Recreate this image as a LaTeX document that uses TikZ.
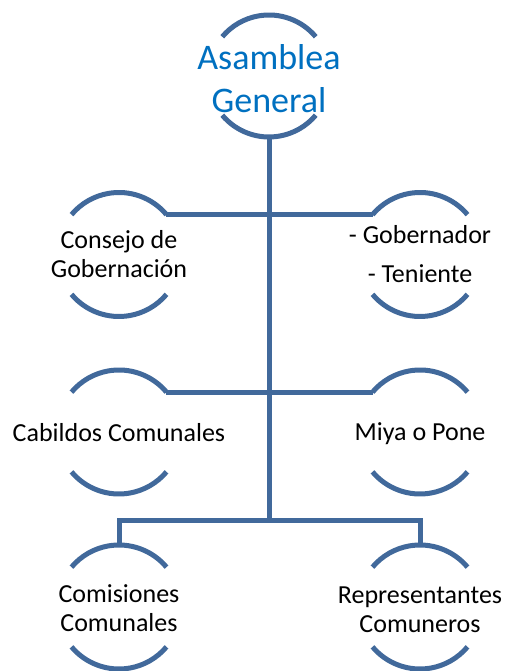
\documentclass[tikz,border=0pt]{standalone}
\usepackage{fontspec}
\setmainfont{Carlito}
\definecolor{lineblue}{RGB}{65,105,155}
\definecolor{textblue}{RGB}{0,112,192}
\begin{document}
\begin{tikzpicture}[x=1pt,y=1pt,
  ln/.style={draw=lineblue,line width=5pt},
  lbl/.style={inner sep=0pt,align=center,font=\fontsize{26}{29}\selectfont},
  toplbl/.style={inner sep=0pt,align=center,text=textblue,font=\fontsize{36}{43}\selectfont}]
\useasboundingbox (0,0) rectangle (505,671);
% nodes (circle centres)
\node[toplbl] (top) at (269,595) {};
\node[lbl] (cons) at (119,416.5) {};
\node[lbl] (gob) at (420,416.5) {};
\node[lbl] (cab) at (119,239) {};
\node[lbl] (miya) at (420,239) {};
\node[lbl] (com) at (119,64) {};
\node[lbl] (rep) at (420,64) {};
% labels
\node[toplbl] (topt) at ([yshift=-3pt]top.center) {Asamblea\\General};
\node[lbl] (const) at (cons.center) {Consejo de\\Gobernación};
\node[lbl] (gobt) at (gob.center) {- Gobernador\\[10pt]- Teniente};
\node[lbl] (cabt) at ([yshift=-1pt]cab.center) {Cabildos Comunales};
\node[lbl] (miyat) at ([yshift=-2pt]miya.center) {Miya o Pone};
\node[lbl] (comt) at ([yshift=-1pt]com.center) {Comisiones\\Comunales};
\node[lbl] (rept) at ([yshift=-3pt]rep.center) {Representantes\\Comuneros};
\coordinate (j) at (269,150);
% arcs
\draw[ln] ([shift={(40:61)}]top.center) arc[start angle=40,end angle=140,radius=61];
\draw[ln] ([shift={(220:61)}]top.center) arc[start angle=220,end angle=320,radius=61];
\foreach \n in {cons,gob,cab,miya,com,rep}{
  \draw[ln] ([shift={(40:62)}]\n.center) arc[start angle=40,end angle=140,radius=62];
  \draw[ln] ([shift={(220:62)}]\n.center) arc[start angle=220,end angle=320,radius=62];
}
% connectors
\draw[ln] ([shift={(270:61)}]top.center) -- (j);
\draw[ln] ([shift={(40:62)}]cons.center) -- ([shift={(140:62)}]gob.center);
\draw[ln] ([shift={(40:62)}]cab.center) -- ([shift={(140:62)}]miya.center);
\draw[ln] ([shift={(90:62)}]com.center) -- (com.center |- j) -- (rep.center |- j) -- ([shift={(90:62)}]rep.center);
\end{tikzpicture}
\end{document}
